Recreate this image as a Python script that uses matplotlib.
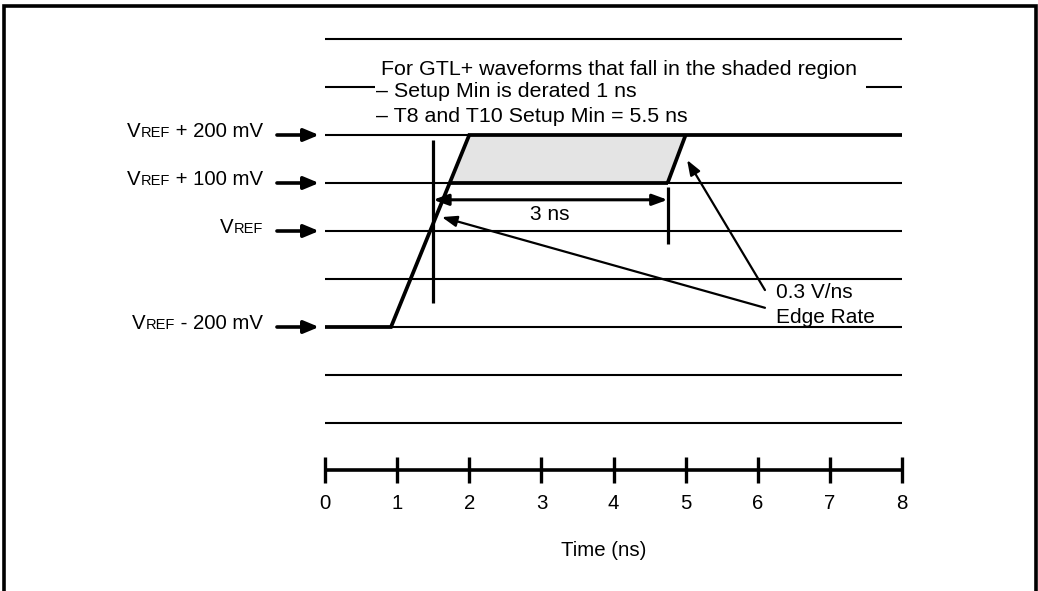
import matplotlib
matplotlib.use("Agg")
import matplotlib.pyplot as plt
from matplotlib.lines import Line2D
from matplotlib.patches import FancyArrowPatch, Polygon

plt.rcParams['font.family'] = ['Liberation Sans', 'DejaVu Sans']

# ---- data (time in ns, level in mV relative to VREF) ----
grid_levels = [400, 200, 100, 0, -100, -200, -300, -400]
split_level = 300
split_segments = [(0.0, 0.7), (7.5, 8.0)]
time_ticks = [0, 1, 2, 3, 4, 5, 6, 7, 8]
tick_labels = ["0", "1", "2", "3", "4", "5", "6", "7", "8"]

wave_t = [0.0, 0.915, 2.0, 8.0]
wave_mv = [-200, -200, 200, 200]

shade_t = [1.74, 2.0, 5.0, 4.75]
shade_mv = [100, 200, 200, 100]

bottom_edge_t = [1.74, 4.75]
bottom_edge_mv = [100, 100]
right_edge_t = [4.75, 5.0]
right_edge_mv = [100, 200]

marker1_t = 1.5
marker1_mv = [190, -150]
marker2_t = 4.75
marker2_mv = [92, -27]
span_mv = 65
span_label = "3 ns"

label_levels = [200, 100, 0, -200]
label_suffix = [" + 200 mV", " + 100 mV", "", " - 200 mV"]

note_lines = ["For GTL+ waveforms that fall in the shaded region",
              "\u2013 Setup Min is derated 1 ns",
              "\u2013 T8 and T10 Setup Min = 5.5 ns"]
edge_text = ["0.3 V/ns", "Edge Rate"]
edge_arrow_tail = [(6.10, -123), (6.10, -160)]
edge_arrow_tip = [(5.02, 148), (1.62, 29)]

axis_level = -498
xlabel = "Time (ns)"

# ---- figure ----
W, H = 1038, 591
fig = plt.figure(figsize=(W / 100, H / 100), dpi=100)
ax = fig.add_axes([0, 0, 1, 1])
pxx = 72.125  # px per ns
pxy = 0.48    # px per mV
x0, y0 = 325, 231
ax.set_xlim(-x0 / pxx, (W - x0) / pxx)
ax.set_ylim((y0 - H) / pxy, y0 / pxy)
ax.axis('off')

FS = 15
FS_NOTE = 15.4
FS_LAB = 14.7
thin = 1.5
thick = 2.7

# border
l, r, t = 4.5 / W, 1035.5 / W, 1 - 6 / H
fig.add_artist(Line2D([l, l, r, r], [0, t, t, 0], transform=fig.transFigure,
                      color='black', lw=2.6, solid_joinstyle='miter'))

# grid lines
for lv in grid_levels:
    ax.plot([0, 8], [lv, lv], color='black', lw=thin, solid_capstyle='butt')
for a, b in split_segments:
    ax.plot([a, b], [split_level, split_level], color='black', lw=thin,
            solid_capstyle='butt')

# shaded region
ax.add_patch(Polygon(list(zip(shade_t, shade_mv)), closed=True,
                     facecolor='#e4e4e4', edgecolor='none', zorder=2))
ax.plot(bottom_edge_t, bottom_edge_mv, color='black', lw=thick, zorder=4,
        solid_capstyle='butt')
ax.plot(right_edge_t, right_edge_mv, color='black', lw=thick, zorder=4,
        solid_capstyle='butt')

# waveform
ax.plot(wave_t, wave_mv, color='black', lw=thick, zorder=5,
        solid_joinstyle='miter', solid_capstyle='butt')

# marker verticals
ax.plot([marker1_t, marker1_t], marker1_mv, color='black', lw=2.3,
        solid_capstyle='butt', zorder=4)
ax.plot([marker2_t, marker2_t], marker2_mv, color='black', lw=2.3,
        solid_capstyle='butt', zorder=4)

# double arrow
ax.add_patch(FancyArrowPatch((marker1_t, span_mv), (marker2_t, span_mv),
                             arrowstyle='<|-|>,head_length=0.6,head_width=0.22',
                             mutation_scale=15, lw=2.2, color='black',
                             shrinkA=0, shrinkB=0, zorder=6))
ax.text(3.12, 23, span_label, fontsize=FS, ha='center', va='baseline')

# edge-rate annotation
for tail, tip in zip(edge_arrow_tail, edge_arrow_tip):
    ax.add_patch(FancyArrowPatch(tail, tip,
                                 arrowstyle='-|>,head_length=0.6,head_width=0.22',
                                 mutation_scale=15, lw=1.6, color='black',
                                 shrinkA=0, shrinkB=0, zorder=6))
ax.text(6.255, -139.6, edge_text[0], fontsize=FS, ha='left', va='baseline')
ax.text(6.255, -191.7, edge_text[1], fontsize=FS, ha='left', va='baseline')

# note text
ax.text(0.777, 325, note_lines[0], fontsize=FS_NOTE, ha='left', va='baseline')
ax.text(0.71, 279.8, note_lines[1], fontsize=FS_NOTE, ha='left', va='baseline')
ax.text(0.71, 227.7, note_lines[2], fontsize=FS_NOTE, ha='left', va='baseline')

# left labels with arrows
renderer = fig.canvas.get_renderer()
label_right = -0.86
for lv, suf in zip(label_levels, label_suffix):
    ax.add_patch(FancyArrowPatch((-0.666, lv), (-0.083, lv),
                                 arrowstyle='-|>,head_length=0.6,head_width=0.25',
                                 mutation_scale=15, lw=2.6, color='black',
                                 shrinkA=0, shrinkB=0))
    base = lv - 4.2
    xr = label_right
    for s, fs in [(suf, FS_LAB), ("REF", 10.5), ("V", FS_LAB)]:
        if not s:
            continue
        txt = ax.text(xr, base, s, fontsize=fs, ha='right', va='baseline')
        bb = txt.get_window_extent(renderer=renderer)
        xr = ax.transData.inverted().transform((bb.x0, 0))[0]

# time axis
ax.plot([0, 8], [axis_level, axis_level], color='black', lw=2.6,
        solid_capstyle='butt')
for tk, lb in zip(time_ticks, tick_labels):
    ax.plot([tk, tk], [axis_level + 27, axis_level - 27], color='black',
            lw=2.4, solid_capstyle='butt')
    ax.text(tk, -579, lb, fontsize=FS_LAB, ha='center', va='baseline')
ax.text(3.87, -677, xlabel, fontsize=FS_LAB, ha='center', va='baseline')

fig.savefig("out.png", dpi=100)
